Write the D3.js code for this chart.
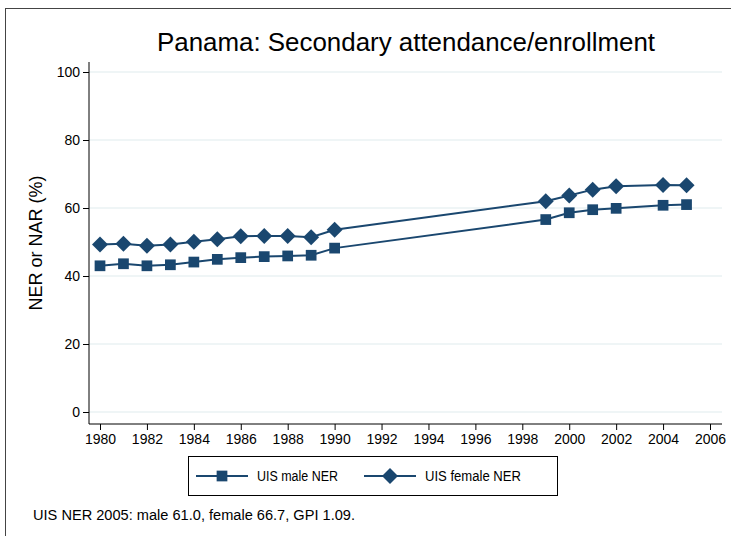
<!DOCTYPE html>
<html><head><meta charset="utf-8">
<script src="https://cdn.jsdelivr.net/npm/d3@7"></script>
<style>body{margin:0;background:#fff;} svg{display:block;font-family:"Liberation Sans",Arial,sans-serif;}</style>
</head><body>
<script>
const years = [1980,1981,1982,1983,1984,1985,1986,1987,1988,1989,1990,1999,2000,2001,2002,2004,2005];
const maleNER = [43.0,43.6,43.0,43.3,44.1,44.9,45.4,45.7,45.9,46.1,48.2,56.6,58.6,59.5,59.9,60.8,61.0];
const femaleNER = [49.3,49.5,48.9,49.3,50.1,50.8,51.7,51.8,51.8,51.4,53.6,62.0,63.7,65.4,66.4,66.8,66.7];
const yTicks = [0,20,40,60,80,100];
const xTicks = [1980,1982,1984,1986,1988,1990,1992,1994,1996,1998,2000,2002,2004,2006];
const title = "Panama: Secondary attendance/enrollment";
const yLabel = "NER or NAR (%)";
const seriesNames = ["UIS male NER","UIS female NER"];
const note = "UIS NER 2005: male 61.0, female 66.7, GPI 1.09.";

const W = 731, H = 536, color = "#1a476f";
const svg = d3.select("body").append("svg").attr("width", W).attr("height", H);
svg.append("rect").attr("x",5.5).attr("y",8.5).attr("width",900).attr("height",900)
  .attr("fill","none").attr("stroke","#444").attr("stroke-width",1);

const x = d3.scaleLinear().domain([1980,2006]).range([100,710]);
const y = d3.scaleLinear().domain([0,100]).range([412,72]);
const left = 89, right = 722, bottom = 424;

// gridlines
svg.append("g").selectAll("line").data(yTicks).join("line")
  .attr("x1",left).attr("x2",right).attr("y1",d=>y(d)).attr("y2",d=>y(d))
  .attr("stroke","#eaf2f3").attr("stroke-width",1.5);

// y axis
const ya = svg.append("g").attr("transform",`translate(${left},0)`)
  .call(d3.axisLeft(y).tickValues(yTicks).tickSize(6).tickPadding(3).tickSizeOuter(0));
ya.select(".domain").attr("d",`M0,62V${bottom}`).attr("stroke","#000");
ya.selectAll("text").attr("font-size",14).attr("fill","#000").attr("font-family","Liberation Sans, Arial");
// x axis
const xa = svg.append("g").attr("transform",`translate(0,${bottom})`)
  .call(d3.axisBottom(x).tickValues(xTicks).tickFormat(d3.format("d")).tickSize(6).tickPadding(4).tickSizeOuter(0));
xa.select(".domain").attr("d",`M${left},0H${right}`).attr("stroke","#000");
xa.selectAll("text").attr("font-size",14).attr("fill","#000").attr("font-family","Liberation Sans, Arial");

svg.append("text").attr("x",157).attr("y",51).attr("textLength",498).attr("lengthAdjust","spacingAndGlyphs")
  .attr("font-size",25).attr("fill","#000").text(title);
svg.append("text").attr("transform","translate(42,243) rotate(-90)").attr("text-anchor","middle")
  .attr("font-size",18).attr("fill","#000").text(yLabel);

const line = d3.line().x(d=>x(d[0])).y(d=>y(d[1]));
const male = years.map((yr,i)=>[yr,maleNER[i]]);
const female = years.map((yr,i)=>[yr,femaleNER[i]]);
const sq = d3.symbol().type(d3.symbolSquare).size(115);
const dm = "M0,-8L8,0L0,8L-8,0Z";

[[male,sq],[female,dm]].forEach(([data,sym])=>{
  svg.append("path").datum(data).attr("d",line).attr("fill","none").attr("stroke",color).attr("stroke-width",2);
  svg.append("g").selectAll("path").data(data).join("path")
    .attr("transform",d=>`translate(${x(d[0])},${y(d[1])})`).attr("d",sym).attr("fill",color);
});

// legend
svg.append("rect").attr("x",188.5).attr("y",456.5).attr("width",369).attr("height",39)
  .attr("fill","#fff").attr("stroke","#000").attr("stroke-width",1);
[[sq,196,seriesNames[0],81],[dm,364,seriesNames[1],96]].forEach(([sym,lx,name,tl])=>{
  svg.append("line").attr("x1",lx).attr("x2",lx+52).attr("y1",476).attr("y2",476).attr("stroke",color).attr("stroke-width",2);
  svg.append("path").attr("transform",`translate(${lx+26},476)`).attr("d",sym).attr("fill",color);
  svg.append("text").attr("x",lx+61).attr("y",481).attr("font-size",14).attr("textLength",tl).attr("lengthAdjust","spacingAndGlyphs")
    .attr("fill","#000").text(name);
});
svg.append("text").attr("x",33).attr("y",520).attr("font-size",14).attr("textLength",322).attr("lengthAdjust","spacingAndGlyphs")
  .attr("fill","#000").text(note);
</script>
</body></html>
